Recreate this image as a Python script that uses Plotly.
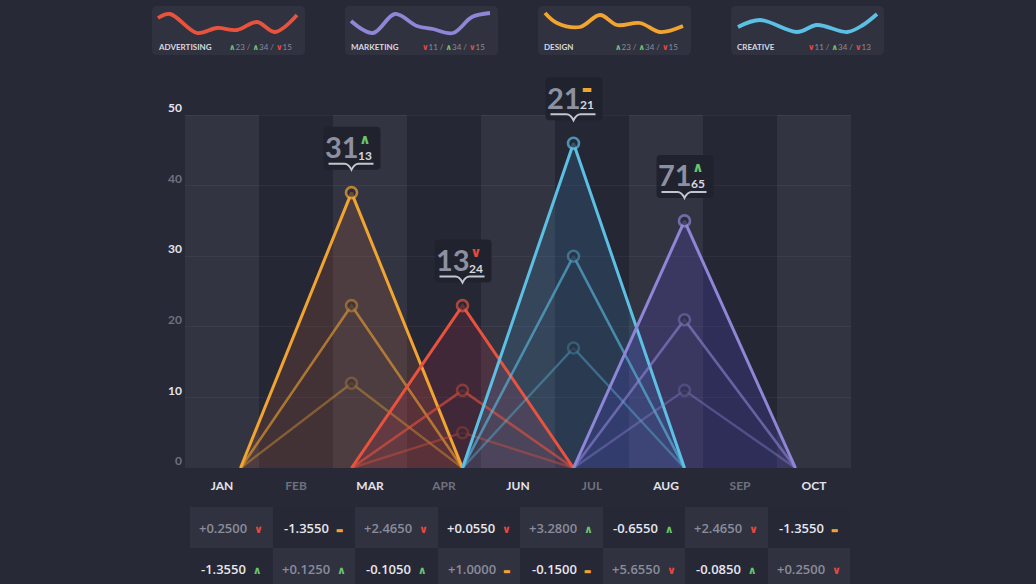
import plotly.graph_objects as go

W, H = 1036, 584

# ---------------- data ----------------
months = ["JAN", "FEB", "MAR", "APR", "JUN", "JUL", "AUG", "SEP", "OCT"]
y_ticks = [0, 10, 20, 30, 40, 50]

# triangle series, left to right
series_names = ["Design", "Advertising", "Creative", "Marketing"]
series_colors = ["#F2A431", "#E9533D", "#5CC0E4", "#8E86D6"]
series_fills = ["rgba(215,105,60,0.17)", "rgba(205,45,70,0.17)", "rgba(70,155,215,0.17)", "rgba(85,75,215,0.22)"]
series_start = [0.25, 1.75, 3.25, 4.75]      # x where each triangle begins (month index units)
series_span = 3.0
peak_outer = [39, 23, 46, 35]
peak_mid = [23, 11, 30, 21]
peak_low = [12, 5, 17, 11]

label_big = ["31", "13", "21", "71"]
label_small = ["13", "24", "21", "65"]
label_trend = ["up", "down", "flat", "up"]

table_row1 = ["+0.2500", "-1.3550", "+2.4650", "+0.0550", "+3.2800", "-0.6550", "+2.4650", "-1.3550"]
table_row1_trend = ["down", "flat", "down", "down", "up", "up", "down", "flat"]
table_row2 = ["-1.3550", "+0.1250", "-0.1050", "+1.0000", "-0.1500", "+5.6550", "-0.0850", "+0.2500"]
table_row2_trend = ["up", "up", "up", "flat", "flat", "down", "up", "down"]

card_names = ["ADVERTISING", "MARKETING", "DESIGN", "CREATIVE"]
card_colors = ["#E9533D", "#8E86D6", "#F2A431", "#5CC0E4"]
card_stats = [
    [("up", 23), ("up", 34), ("down", 15)],
    [("down", 11), ("up", 34), ("down", 15)],
    [("up", 23), ("up", 34), ("down", 15)],
    [("down", 11), ("up", 34), ("down", 13)],
]
spark_x = [
    [0, 12, 39, 59, 79, 99, 117, 139],
    [0, 22, 44, 66, 82, 102, 121, 139],
    [1, 13, 36, 56, 73, 96, 116, 139],
    [1, 23, 60, 80, 110, 126, 140],
]
spark_y = [
    [37, 41, 22, 27, 25, 33, 23, 40],
    [34, 22, 41, 29, 26, 22, 38, 42],
    [42, 32, 28, 40, 30, 32, 23, 29],
    [28, 35, 23, 30, 23, 30, 41],
]

# ---------------- style ----------------
BG = "#272937"
BRIGHT = "#e3e4eb"
DIM = "#6f7180"
GREEN = "#6cc46e"
RED = "#e8483e"
ORANGE = "#f2a431"
FONT = "Lato, 'Open Sans', sans-serif"
glyph = {"up": "∧", "down": "∨", "flat": "▬"}
glyph_col = {"up": GREEN, "down": RED, "flat": ORANGE}


def px_x(v):
    return v / W


def px_y(v):
    return 1 - v / H


fig = go.Figure()

# column bands
n = len(months)
band_cols = ["rgba(255,255,255,0.055)" if i % 2 == 0 else "rgba(0,0,0,0.03)" for i in range(n)]
fig.add_trace(go.Bar(x=list(range(n)), y=[y_ticks[-1]] * n, width=1,
                     marker=dict(color=band_cols, line=dict(width=0)), hoverinfo="skip"))

# fills
for i in range(4):
    s = series_start[i]
    fig.add_trace(go.Scatter(x=[s, s + series_span / 2, s + series_span], y=[0, peak_outer[i], 0],
                             fill="toself", fillcolor=series_fills[i], mode="lines",
                             line=dict(width=0), hoverinfo="skip"))

# lines
for i in range(4):
    s = series_start[i]
    xs = [s, s + series_span / 2, s + series_span]
    for vals, op, lw in ((peak_low, 0.38, 2.4), (peak_mid, 0.6, 2.6), (peak_outer, 1.0, 3.0)):
        fig.add_trace(go.Scatter(x=xs, y=[0, vals[i], 0], mode="lines+markers", opacity=op,
                                 line=dict(color=series_colors[i], width=lw),
                                 marker=dict(size=[0, 11, 0], color=BG, symbol="circle",
                                             line=dict(color=series_colors[i], width=[0, 2.6, 0])),
                                 hoverinfo="skip"))

# table background (checkerboard)
ncol = len(table_row1)
z = [[(r + c) % 2 for c in range(ncol)] for r in range(2)]
fig.add_trace(go.Heatmap(z=z, x=list(range(ncol)), y=[0, 1], xaxis="x2", yaxis="y2",
                         colorscale=[[0, "#30323f"], [1, "#262835"]], zmin=0, zmax=1,
                         showscale=False, hoverinfo="skip"))

# sparklines
for i in range(4):
    fig.add_trace(go.Scatter(x=spark_x[i], y=spark_y[i], xaxis="x%d" % (3 + i), yaxis="y%d" % (3 + i),
                             mode="lines", line=dict(color=card_colors[i], width=3.8, shape="spline", smoothing=1.0),
                             hoverinfo="skip"))

annotations = []
shapes = []


def rr(x0, y0, x1, y1, r):
    return (f"M{x0 + r},{y0} L{x1 - r},{y0} Q{x1},{y0} {x1},{y0 + r} L{x1},{y1 - r} Q{x1},{y1} {x1 - r},{y1} "
            f"L{x0 + r},{y1} Q{x0},{y1} {x0},{y1 - r} L{x0},{y0 + r} Q{x0},{y0} {x0 + r},{y0} Z")


# peak labels
for i in range(4):
    px_ = series_start[i] + series_span / 2
    py_ = peak_outer[i]
    shapes.append(dict(type="path", xref="x", yref="y", xsizemode="pixel", ysizemode="pixel",
                       xanchor=px_, yanchor=py_, path=rr(-28, 23, 29, 66, 4),
                       fillcolor="#20222d", line=dict(width=0), layer="above"))
    shapes.append(dict(type="path", xref="x", yref="y", xsizemode="pixel", ysizemode="pixel",
                       xanchor=px_, yanchor=py_,
                       path="M-23,29 L-7,29 Q-3,29 0,23 Q3,29 7,29 L22,29",
                       line=dict(color="#c3c5d0", width=2), layer="above"))
    annotations.append(dict(x=px_, y=py_, xref="x", yref="y", xshift=-10, yshift=46, showarrow=False,
                            text="<b>%s</b>" % label_big[i], font=dict(family=FONT, size=29, color="#8d90a1")))
    t = label_trend[i]
    gsz = 14 if t != "flat" else 11
    annotations.append(dict(x=px_, y=py_, xref="x", yref="y", xshift=13, yshift=46, showarrow=False,
                            text="<span style='color:%s;font-size:%dpx;font-family:DejaVu Sans'><b>%s</b></span><br><b>%s</b>"
                                 % (glyph_col[t], gsz, glyph[t], label_small[i]),
                            font=dict(family=FONT, size=12, color="#d7d8df")))

# table text
for r, (vals, trends) in enumerate(((table_row1, table_row1_trend), (table_row2, table_row2_trend))):
    for c in range(ncol):
        light = (r + c) % 2 == 0
        col = "#8a8c9b" if light else "#e6e7ee"
        tr = trends[c]
        gs = 11 if tr != "flat" else 8
        txt = "%s  <span style='color:%s;font-size:%dpx;font-family:DejaVu Sans'><b>%s</b></span>" % (
            vals[c], glyph_col[tr], gs, glyph[tr])
        annotations.append(dict(x=c, y=r, xref="x2", yref="y2", showarrow=False, text=txt,
                                font=dict(family="'Open Sans', sans-serif", size=13, color=col, weight=600)))

# cards
card_left = [152, 345, 538, 731]
card_w, card_top, card_bot = 153, 6, 55
layout_extra = {}
for i in range(4):
    L = card_left[i]
    R = L + card_w
    r = 5
    x0, x1 = px_x(L), px_x(R)
    y0, y1 = px_y(card_bot), px_y(card_top)
    rx, ry = r / W, r / H
    path = (f"M{x0 + rx},{y0} L{x1 - rx},{y0} Q{x1},{y0} {x1},{y0 + ry} L{x1},{y1 - ry} Q{x1},{y1} {x1 - rx},{y1} "
            f"L{x0 + rx},{y1} Q{x0},{y1} {x0},{y1 - ry} L{x0},{y0 + ry} Q{x0},{y0} {x0 + rx},{y0} Z")
    shapes.append(dict(type="path", xref="paper", yref="paper", path=path, fillcolor="#30323f",
                       line=dict(width=0), layer="below"))
    ax = 3 + i
    layout_extra["xaxis%d" % ax] = dict(domain=[x0, x1], range=[-6, card_w - 6], visible=False,
                                        anchor="y%d" % ax, fixedrange=True, automargin=False)
    layout_extra["yaxis%d" % ax] = dict(domain=[y0, y1], range=[0, card_bot - card_top], visible=False,
                                        anchor="x%d" % ax, fixedrange=True, automargin=False)
    annotations.append(dict(x=0, y=8, xref="x%d" % ax, yref="y%d" % ax, xanchor="left", xshift=-2,
                            showarrow=False, text="<b>%s</b>" % card_names[i],
                            font=dict(family=FONT, size=8, color="#d8d9e0")))
    parts = []
    for tr, v in card_stats[i]:
        parts.append("<span style='color:%s;font-family:DejaVu Sans'><b>%s</b></span>%d" % (glyph_col[tr], glyph[tr], v))
    annotations.append(dict(x=136, y=8, xref="x%d" % ax, yref="y%d" % ax, xanchor="right", showarrow=False,
                            text=" / ".join(parts), font=dict(family=FONT, size=8, color="#8a8c9a")))

xt = ["<span style='color:%s'><b>%s</b></span>" % (BRIGHT if i % 2 == 0 else DIM, m) for i, m in enumerate(months)]
yt = ["<span style='color:%s'><b>%d</b></span>" % (BRIGHT if (v // 10) % 2 == 1 else DIM, v) for v in y_ticks]

px_per_unit = (468 - 115) / 50.0

fig.update_layout(
    width=W, height=H, margin=dict(l=0, r=0, t=0, b=0, pad=0, autoexpand=False),
    paper_bgcolor=BG, plot_bgcolor="rgba(0,0,0,0)",
    showlegend=False, hovermode=False, barmode="overlay",
    font=dict(family=FONT, color=BRIGHT),
    xaxis=dict(domain=[px_x(185), px_x(851)], range=[-0.5, n - 0.5], tickvals=list(range(n)), ticktext=xt,
               showgrid=False, zeroline=False, showline=False, ticks="", ticklabelstandoff=9,
               tickfont=dict(family=FONT, size=12), anchor="y", fixedrange=True, automargin=False),
    yaxis=dict(domain=[px_y(468), px_y(60)], range=[0, (468 - 60) / px_per_unit], tickvals=y_ticks, ticktext=yt,
               showgrid=True, gridcolor="rgba(255,255,255,0.045)", gridwidth=1, zeroline=False, showline=False,
               ticks="", ticklabelshift=-7, ticklabelstandoff=2, tickfont=dict(family=FONT, size=12),
               anchor="x", fixedrange=True, automargin=False),
    xaxis2=dict(domain=[px_x(190), px_x(850)], range=[-0.5, ncol - 0.5], visible=False, anchor="y2",
                automargin=False),
    yaxis2=dict(domain=[0, px_y(507)], range=[(584 - 507) / 41.0 - 0.5, -0.5], visible=False, anchor="x2",
                automargin=False),
    annotations=annotations, shapes=shapes,
    **layout_extra,
)

fig.write_html("out.html")
